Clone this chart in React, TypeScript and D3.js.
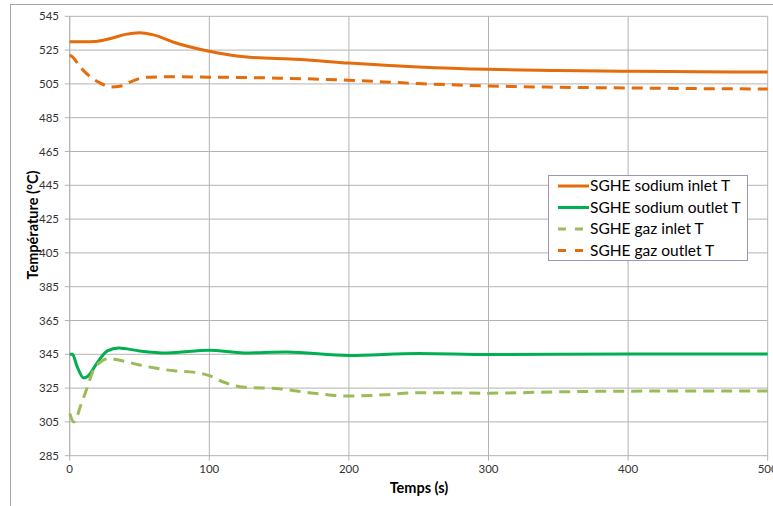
import React from "react";
import * as d3 from "d3";

const timeTicks = [0, 100, 200, 300, 400, 500];
const tempTicks = [285, 305, 325, 345, 365, 385, 405, 425, 445, 465, 485, 505, 525, 545];

const sodiumInletT = [0, 10, 20, 30, 40, 50, 60, 75, 100, 125, 165, 200, 250, 300, 350, 400, 450, 500];
const sodiumInletV = [530, 530, 530.3, 532, 534.3, 535.3, 534, 529.5, 524.3, 521, 519.5, 517.3, 515, 513.6, 513, 512.5, 512.2, 512];

const gazOutletT = [0, 2, 7.5, 15, 22, 29, 36, 43, 50, 57, 70, 100, 150, 200, 250, 300, 350, 400, 450, 500];
const gazOutletV = [522, 521, 515, 509, 505.5, 503.2, 503.6, 506, 508.2, 509, 509.2, 509, 508.4, 507.2, 505.2, 503.8, 503, 502.6, 502.2, 502];

const sodiumOutletT = [0, 2, 5, 10, 13, 20, 27, 35, 50, 70, 100, 125, 155, 200, 250, 300, 400, 500];
const sodiumOutletV = [345, 345, 338.5, 331, 332, 340.4, 347, 348.7, 347, 345.8, 347.4, 345.8, 346.3, 344.3, 345.5, 344.9, 345.2, 345.2];

const gazInletT = [0, 3, 8, 12, 17, 22, 28, 35, 50, 60, 75, 90, 100, 110, 125, 150, 175, 200, 225, 250, 300, 350, 400, 500];
const gazInletV = [310, 305, 315, 324, 335.7, 340.4, 342.5, 341.6, 338.7, 337, 335.2, 334.3, 332.4, 328.6, 325.5, 324.6, 322, 320.3, 321, 322.3, 322, 322.8, 323.2, 323.3];

const seriesNames = ["SGHE sodium inlet T", "SGHE sodium outlet T", "SGHE gaz inlet T", "SGHE gaz outlet T"];

export default function App() {
  const W = 773, H = 506;
  const x = d3.scaleLinear().domain([0, 500]).range([69.7, 767.7]);
  const y = d3.scaleLinear().domain([285, 545]).range([455.7, 16.3]);
  const font = "Lato, 'Open Sans', sans-serif";

  const mk = (ts: number[], vs: number[]) =>
    d3.line<number>().x((_, i) => x(ts[i])).y((v) => y(v)).curve(d3.curveMonotoneX)(vs) || "";

  const series = [
    { name: seriesNames[0], d: mk(sodiumInletT, sodiumInletV), color: "#e46c0a", dash: undefined },
    { name: seriesNames[1], d: mk(sodiumOutletT, sodiumOutletV), color: "#00b050", dash: undefined },
    { name: seriesNames[2], d: mk(gazInletT, gazInletV), color: "#9bbb59", dash: "11 7" },
    { name: seriesNames[3], d: mk(gazOutletT, gazOutletV), color: "#e46c0a", dash: "11 7" },
  ];
  const grid = "#b3b3b3";

  return (
    <svg width={W} height={H} style={{ position: "absolute", left: 0, top: 0, background: "#fff" }}>
      <rect x={10.5} y={4.5} width={900} height={700} fill="#fff" stroke="#a6a6a6" strokeWidth={1} />
      {tempTicks.map((t) => (
        <g key={"y" + t}>
          <line x1={x(0) - 5} x2={x(500)} y1={y(t)} y2={y(t)} stroke={grid} strokeWidth={1} />
          <text x={59} y={y(t)} dy="0.35em" textAnchor="end" fontFamily={font} fontSize={11.5} fill="#333">{t}</text>
        </g>
      ))}
      {timeTicks.map((t) => (
        <g key={"x" + t}>
          <line x1={x(t)} x2={x(t)} y1={y(545)} y2={y(285) + 5} stroke={grid} strokeWidth={1} />
          <text x={x(t)} y={473} textAnchor="middle" fontFamily={font} fontSize={11.5} fill="#333">{t}</text>
        </g>
      ))}
      <line x1={x(0)} x2={x(0)} y1={y(545)} y2={y(285)} stroke={grid} />
      {series.map((s) => (
        <path key={s.name} d={s.d} fill="none" stroke={s.color} strokeWidth={3} strokeDasharray={s.dash} />
      ))}
      <text x={419} y={493} textAnchor="middle" fontFamily={font} fontSize={14.5} fontWeight="bold" fill="#000">Temps (s)</text>
      <text transform={`translate(38,225) rotate(-90)`} textAnchor="middle" fontFamily={font} fontSize={14.5} fontWeight="bold" fill="#000">Température (°C)</text>
      <rect x={548.5} y={175.5} width={199} height={85} fill="#fff" stroke="#9e93b8" strokeWidth={1} />
      {series.map((s, i) => {
        const cy = 186 + i * 21.5;
        return (
          <g key={"l" + i}>
            <line x1={558} x2={589} y1={cy} y2={cy} stroke={s.color} strokeWidth={3} strokeDasharray={s.dash ? "8 9" : undefined} />
            <text x={590} y={cy} dy="0.35em" fontFamily={font} fontSize={15.5} fill="#000">{s.name}</text>
          </g>
        );
      })}
    </svg>
  );
}
